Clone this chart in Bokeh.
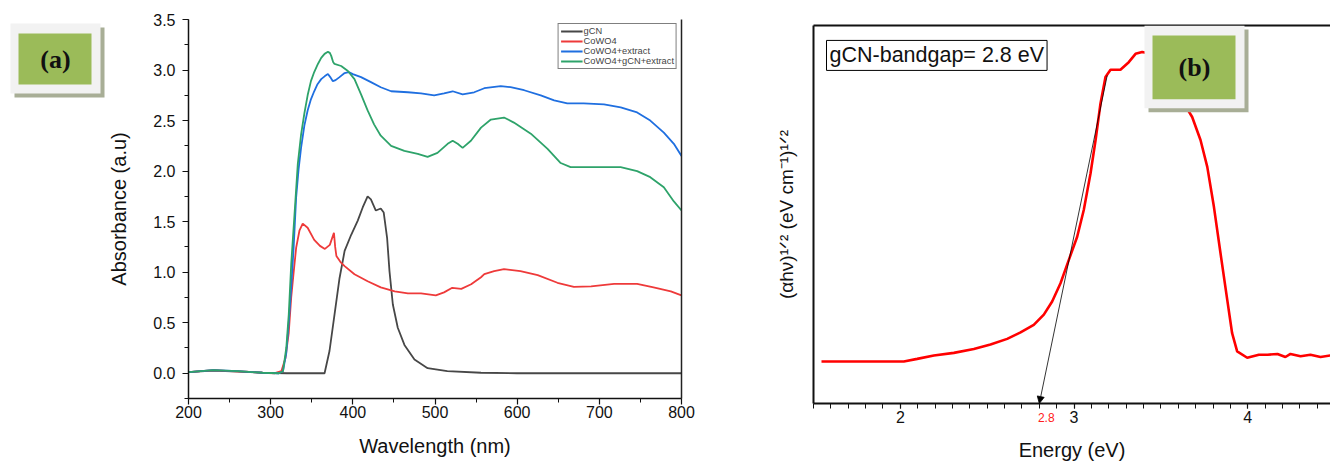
from bokeh.plotting import figure
from bokeh.layouts import row
from bokeh.models import (LinearAxis, SingleIntervalTicker, FixedTicker, PrintfTickFormatter,
                          Legend, LegendItem, BoxAnnotation, Label, Arrow, NormalHead, Range1d)
from bokeh.embed import file_html
from bokeh.resources import INLINE

# ---------------- Panel (a) data: UV-Vis absorbance ----------------
series_names = ["gCN", "CoWO4", "CoWO4+extract", "CoWO4+gCN+extract"]
series_colors = ["#474747", "#ee3a3a", "#1f6fe0", "#2ea36a"]

gcn_wl = [200, 230, 260, 290, 320, 360, 365.6, 371.6, 377.7, 383.8, 390, 398, 406, 412, 418, 422,
          428, 434, 437.6, 441.7, 444.6, 448.7, 454.7, 462.8, 475, 491, 515, 556, 600, 700, 800]
gcn_abs = [0.01, 0.025, 0.015, 0.005, 0.0, 0.0, 0.0, 0.22, 0.58, 0.94, 1.21, 1.37, 1.51, 1.64, 1.75,
           1.72, 1.61, 1.63, 1.59, 1.34, 1.01, 0.68, 0.45, 0.28, 0.135, 0.05, 0.02, 0.005, 0.0, 0.0, 0.0]

cowo4_wl = [200, 215, 232, 250, 270, 290, 305, 313, 318, 322, 325, 328, 331, 335, 339, 345, 353, 360,
            366, 372, 377, 378.5, 380, 385, 390, 402, 418, 434, 451, 467, 483, 501, 511, 521, 532,
            544, 556, 560, 572, 584, 604, 625, 649, 669, 690, 718, 746, 766, 787, 800]
cowo4_abs = [0.01, 0.02, 0.03, 0.02, 0.015, 0.005, 0.0, 0.02, 0.15, 0.4, 0.75, 1.0, 1.24, 1.41, 1.48,
             1.44, 1.32, 1.26, 1.23, 1.27, 1.39, 1.25, 1.16, 1.10, 1.06, 0.98, 0.91, 0.85, 0.81, 0.79,
             0.79, 0.77, 0.80, 0.845, 0.835, 0.88, 0.95, 0.98, 1.01, 1.03, 1.01, 0.97, 0.895, 0.855,
             0.86, 0.885, 0.885, 0.85, 0.81, 0.77]

cowo4_ext_wl = [200, 230, 260, 290, 310, 315, 319, 322, 325, 328, 331, 334, 337, 341, 345, 349, 353,
                357, 361.5, 366, 369.7, 372.5, 375.7, 379, 383.8, 390, 395, 400, 410, 422, 434, 446.6,
                467, 483, 499, 511, 521.5, 533.6, 547.7, 560, 580, 592, 608.5, 628.7, 645, 661, 681,
                705.7, 726, 746, 762, 778.5, 790.7, 800]
cowo4_ext_abs = [0.01, 0.03, 0.02, 0.005, 0.0, 0.02, 0.2, 0.5, 0.85, 1.25, 1.74, 2.02, 2.23, 2.45,
                 2.60, 2.71, 2.79, 2.86, 2.91, 2.94, 2.96, 2.93, 2.89, 2.90, 2.93, 2.97, 2.98, 2.96,
                 2.93, 2.88, 2.83, 2.79, 2.78, 2.77, 2.75, 2.77, 2.79, 2.76, 2.78, 2.82, 2.84, 2.83,
                 2.80, 2.75, 2.70, 2.67, 2.67, 2.66, 2.63, 2.58, 2.50, 2.38, 2.27, 2.15]

cowo4_gcn_wl = [200, 230, 260, 290, 310, 315, 319, 322, 325, 329, 333, 337, 341, 345, 349, 353, 357.5,
                361.5, 365.6, 369.7, 372, 373.7, 376, 377.7, 385.8, 394, 402, 410, 418, 426, 434,
                446.6, 462.7, 479, 491, 503, 515.4, 521.5, 527.6, 533.6, 543.7, 556, 568, 584, 596,
                616.6, 637, 653, 665, 685.5, 705.7, 726, 746, 762, 778.5, 790.7, 800]
cowo4_gcn_abs = [0.01, 0.03, 0.02, 0.005, 0.0, 0.02, 0.25, 0.58, 1.08, 1.57, 2.07, 2.36, 2.57, 2.75,
                 2.89, 2.98, 3.06, 3.12, 3.16, 3.18, 3.17, 3.14, 3.08, 3.06, 3.04, 2.99, 2.91, 2.76,
                 2.60, 2.46, 2.35, 2.25, 2.20, 2.17, 2.14, 2.18, 2.27, 2.30, 2.27, 2.23, 2.30, 2.43,
                 2.51, 2.53, 2.48, 2.37, 2.22, 2.08, 2.04, 2.04, 2.04, 2.04, 2.00, 1.94, 1.84, 1.70, 1.61]

x_ticks_a_interval = 100
y_ticks_a_interval = 0.5

# ---------------- Panel (b) data: Tauc plot ----------------
energy_ev = [1.546, 1.886, 2.02, 2.097, 2.193, 2.308, 2.423, 2.519, 2.615, 2.692, 2.768, 2.826,
             2.874, 2.922, 2.97, 3.018, 3.056, 3.095, 3.124, 3.152, 3.181, 3.21, 3.267, 3.315,
             3.354, 3.392, 3.44, 3.50, 3.56, 3.622, 3.68, 3.728, 3.767, 3.805, 3.843, 3.882, 3.91,
             3.939, 3.997, 4.064, 4.114, 4.171, 4.217, 4.246, 4.304, 4.361, 4.419, 4.476]
tauc_val = [0.111, 0.111, 0.111, 0.118, 0.127, 0.134, 0.144, 0.156, 0.171, 0.188, 0.208, 0.235,
            0.27, 0.318, 0.38, 0.441, 0.512, 0.609, 0.697, 0.793, 0.864, 0.883, 0.883, 0.903,
            0.925, 0.93, 0.925, 0.905, 0.86, 0.802, 0.758, 0.697, 0.626, 0.521, 0.398, 0.274,
            0.186, 0.138, 0.121, 0.129, 0.129, 0.131, 0.123, 0.131, 0.125, 0.129, 0.123, 0.127]
tangent_x = [3.191, 2.80]
tangent_y = [0.868, 0.0]
bandgap_ev = 2.8

FONT = "Liberation Sans"
SERIF = "Liberation Serif"
INK = "#111111"


def style_axis(ax, tick_size="16px", label_size="20px"):
    ax.axis_line_color = INK
    ax.axis_line_width = 1.5
    ax.major_tick_line_color = INK
    ax.minor_tick_line_color = INK
    ax.major_tick_line_width = 1.2
    ax.minor_tick_line_width = 1.0
    ax.major_tick_in = 0
    ax.minor_tick_in = 0
    ax.major_tick_out = 6
    ax.minor_tick_out = 4
    ax.major_label_text_font = FONT
    ax.major_label_text_font_size = tick_size
    ax.major_label_text_color = INK
    ax.axis_label_text_font = FONT
    ax.axis_label_text_font_size = label_size
    ax.axis_label_text_font_style = "normal"
    ax.axis_label_text_color = INK


def bare(fig):
    fig.title.visible = False
    fig.outline_line_color = None
    fig.background_fill_color = "white"
    fig.border_fill_color = "white"
    if "frame_align" in fig.properties():
        fig.frame_align = False


def panel_tag(fig, to_x, to_y, box, text):
    """Draw the green panel tag; box = (left, top, right, bottom) in canvas pixels."""
    l, t, r, b = box
    fig.add_layout(BoxAnnotation(left=to_x(l + 4), right=to_x(r + 4), top=to_y(t + 4),
                                 bottom=to_y(b + 4), fill_color="#a8ae96", fill_alpha=1,
                                 line_color=None))
    fig.add_layout(BoxAnnotation(left=to_x(l), right=to_x(r), top=to_y(t), bottom=to_y(b),
                                 fill_color="#f2f2f2", fill_alpha=1, line_color=None))
    fig.add_layout(BoxAnnotation(left=to_x(l + 8), right=to_x(r - 9), top=to_y(t + 10),
                                 bottom=to_y(b - 9), fill_color="#9bbb59", fill_alpha=1,
                                 line_color=None))
    fig.add_layout(Label(x=to_x((l + r) / 2), y=to_y((t + b) / 2 + 1), text=text, text_font=SERIF,
                         text_font_style="bold", text_font_size="26px", text_align="center",
                         text_baseline="middle", text_color=INK))


# ================= tag figure for (a) =================
ptag = figure(width=105, height=463, x_range=Range1d(0, 105), y_range=Range1d(463, 0),
              output_backend="svg", toolbar_location=None, x_axis_type=None, y_axis_type=None,
              min_border=0)
bare(ptag)
panel_tag(ptag, lambda px: px, lambda py: py, (10, 23, 100, 93), "(a)")

# ================= Panel (a) =================
pa = figure(width=655, height=463, x_range=Range1d(200, 800), y_range=Range1d(-0.25, 3.5),
            output_backend="svg", toolbar_location=None, x_axis_type=None, y_axis_type=None,
            min_border_left=82, min_border_right=79, min_border_top=19, min_border_bottom=65)
bare(pa)

xa = LinearAxis(ticker=SingleIntervalTicker(interval=x_ticks_a_interval, num_minor_ticks=2),
                axis_label="Wavelength (nm)")
style_axis(xa)
xa.major_label_standoff = 1
xa.axis_label_standoff = 14
pa.add_layout(xa, "below")

ya = LinearAxis(ticker=SingleIntervalTicker(interval=y_ticks_a_interval, num_minor_ticks=2),
                formatter=PrintfTickFormatter(format="%.1f"), axis_label="Absorbance (a.u)")
style_axis(ya)
ya.major_label_standoff = 7
ya.axis_label_standoff = 20
pa.add_layout(ya, "left")

ra = LinearAxis(ticker=FixedTicker(ticks=[]))
ra.axis_line_color = "#222222"
ra.axis_line_width = 1.5
ra.major_tick_out = 0
ra.minor_tick_out = 0
pa.add_layout(ra, "right")

xs = [gcn_wl, cowo4_wl, cowo4_ext_wl, cowo4_gcn_wl]
ys = [gcn_abs, cowo4_abs, cowo4_ext_abs, cowo4_gcn_abs]
items = []
for name, col, xx, yy in zip(series_names, series_colors, xs, ys):
    r = pa.line(xx, yy, line_color=col, line_width=1.8)
    items.append(LegendItem(label=name, renderers=[r]))

leg = Legend(items=items, location="top_right")
leg.label_text_font = FONT
leg.label_text_font_size = "9.3px"
leg.label_height = 10
leg.glyph_height = 10
leg.glyph_width = 22
leg.spacing = 0
leg.padding = 2
leg.label_standoff = 1
leg.margin = 4
leg.border_line_color = "black"
leg.border_line_width = 1
leg.background_fill_color = "white"
leg.background_fill_alpha = 1
pa.add_layout(leg)

# ================= Panel (b) =================
B_LEFT, B_TOP, B_ZERO, B_PXEV = 813, 25, 404, 173.7
pb = figure(width=570, height=463, x_range=Range1d(1.5, 1.5 + 517 / B_PXEV), y_range=Range1d(0, 1.0),
            output_backend="svg", toolbar_location=None, x_axis_type=None, y_axis_type=None,
            min_border_left=53, min_border_right=0, min_border_top=25, min_border_bottom=59)
bare(pb)

xb = LinearAxis(ticker=SingleIntervalTicker(interval=1, num_minor_ticks=10), axis_label="Energy (eV)")
style_axis(xb)
xb.axis_line_width = 2
xb.major_tick_out = 5
xb.minor_tick_out = 5
xb.major_label_standoff = 2
xb.axis_label_standoff = 13
pb.add_layout(xb, "below")

# secondary axis carrying only the red band-gap value, pulled up beside the tick labels
gap_label_pos = bandgap_ev + 0.04
xg = LinearAxis(ticker=FixedTicker(ticks=[gap_label_pos]),
                major_label_overrides={gap_label_pos: str(bandgap_ev)})
xg.axis_line_color = None
xg.major_tick_out = 0
xg.major_tick_in = 0
xg.minor_tick_out = 0
xg.major_label_text_font = FONT
xg.major_label_text_font_size = "12px"
xg.major_label_text_color = "#ff2020"
xg.major_label_standoff = -51
pb.add_layout(xg, "below")

yb = LinearAxis(ticker=FixedTicker(ticks=[]), axis_label="(αhν)¹ᐟ² (eV cm⁻¹)¹ᐟ²")
style_axis(yb, label_size="19px")
yb.axis_line_width = 2
yb.major_tick_out = 0
yb.minor_tick_out = 0
yb.axis_label_standoff = 17
pb.add_layout(yb, "left")

tb = LinearAxis(ticker=FixedTicker(ticks=[]))
tb.axis_line_color = INK
tb.axis_line_width = 2
tb.major_tick_out = 0
tb.minor_tick_out = 0
pb.add_layout(tb, "above")

pb.line(energy_ev, tauc_val, line_color="#ff0000", line_width=2.6)

pb.add_layout(Arrow(end=NormalHead(size=7, fill_color="black", line_color="black", line_width=0.8),
                    x_start=tangent_x[0], y_start=tangent_y[0],
                    x_end=tangent_x[1], y_end=tangent_y[1],
                    line_color="black", line_width=0.8))


def b_x(px):
    return 1.5 + (px - B_LEFT) / B_PXEV


def b_y(py):
    return (B_ZERO - py) / float(B_ZERO - B_TOP)


pb.add_layout(Label(x=b_x(826), y=b_y(55), text="gCN-bandgap= 2.8 eV", text_font=FONT,
                    text_font_size="21.5px", text_align="left", text_baseline="middle",
                    text_color=INK, border_line_color="black", border_line_width=1,
                    background_fill_color="white", padding=3))

panel_tag(pb, b_x, b_y, (1144, 25, 1244, 108), "(b)")

layout = row(ptag, pa, pb)
open("out.html", "w").write(file_html(layout, INLINE))
